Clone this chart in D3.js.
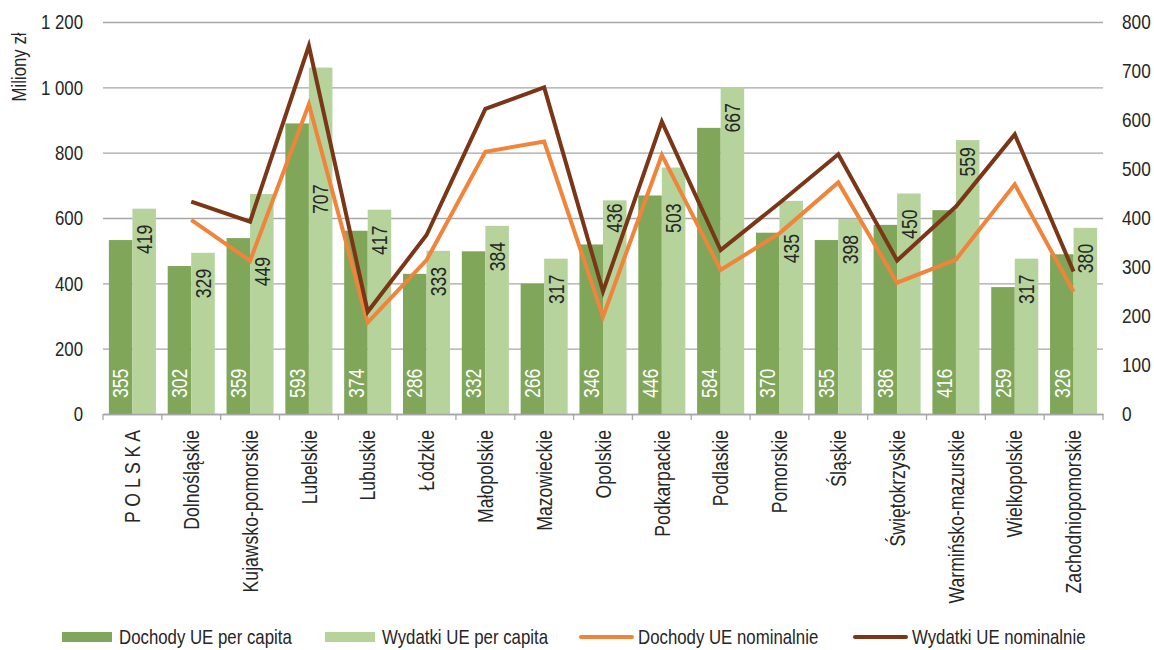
<!DOCTYPE html>
<html>
<head>
<meta charset="utf-8">
<script src="https://cdn.jsdelivr.net/npm/d3@7"></script>
<style>
  body { margin: 0; background: #fff; }
  svg text { font-family: "Liberation Sans", Arial, sans-serif; fill: #262626; font-size: 21px; }
</style>
</head>
<body>
<svg id="chart" width="1154" height="650"></svg>
<script>
// województwa
const categories = ["P O L S K A", "Dolnośląskie", "Kujawsko-pomorskie", "Lubelskie", "Lubuskie", "Łódzkie",
  "Małopolskie", "Mazowieckie", "Opolskie", "Podkarpackie", "Podlaskie", "Pomorskie", "Śląskie",
  "Świętokrzyskie", "Warmińsko-mazurskie", "Wielkopolskie", "Zachodniopomorskie"]

// zł per capita (right axis)
const dochodyPerCapita = [355, 302, 359, 593, 374, 286, 332, 266, 346, 446, 584, 370, 355, 386, 416, 259, 326]
const wydatkiPerCapita = [419, 329, 449, 707, 417, 333, 384, 317, 436, 503, 667, 435, 398, 450, 559, 317, 380]

// miliony zł (left axis), no value for the whole country
const dochodyNominalnie = [null, 594, 469, 948, 280, 471, 803, 834, 298, 793, 441, 553, 709, 402, 473, 703, 374]
const wydatkiNominalnie = [null, 650, 589, 1127, 313, 548, 934, 1000, 375, 895, 502, 646, 795, 470, 635, 856, 436]

const leftTicks = [0, 200, 400, 600, 800, 1000, 1200]
const rightTicks = [0, 100, 200, 300, 400, 500, 600, 700, 800]

const legendItems = ["Dochody UE per capita", "Wydatki UE per capita", "Dochody UE nominalnie", "Wydatki UE nominalnie"]

const colDark = "#80a65a", colLight = "#b5d39b", colOrange = "#f0843a", colBrown = "#7a3616"

const svg = d3.select("#chart")
const plotL = 103, plotR = 1103, plotT = 22, plotB = 414

const x = d3.scaleBand().domain(categories).range([plotL, plotR])
const inner = d3.scaleBand().domain(["d", "w"]).range([0, x.bandwidth()]).paddingOuter(0.25)
const yL = d3.scaleLinear().domain([0, 1200]).range([plotB, plotT])
const yR = d3.scaleLinear().domain([0, 800]).range([plotB, plotT])

// space format "1 200"
const fmt = v => d3.format(",")(v).replace(/,/g, " ")

// gridlines + left axis
const gL = svg.append("g").attr("transform", `translate(${plotL},0)`)
  .call(d3.axisLeft(yL).tickValues(leftTicks).tickFormat(fmt).tickSize(-(plotR - plotL)).tickPadding(20))
gL.select(".domain").remove()
gL.selectAll(".tick line").attr("stroke", "#a6a6a6").attr("stroke-width", 1.3)
gL.selectAll(".tick text").style("font-size", null)

// right axis labels squeezed by transform (keeps their box inside the page)
const gR = svg.append("g").attr("transform", `translate(${plotR},0)`)
  .call(d3.axisRight(yR).tickValues(rightTicks).tickSize(0))
gR.select(".domain").remove()
gR.selectAll(".tick text").style("font-size", null)
  .attr("x", 0).attr("transform", "translate(19,0) scale(0.82,1)")
  .classed("squeezed", true)

svg.append("text")
  .attr("transform", "translate(19,67) rotate(-90)")
  .attr("text-anchor", "middle").attr("dy", "0.35em")
  .text("Miliony zł")

// bars
const groups = svg.append("g").selectAll("g").data(categories).join("g")
  .attr("transform", d => `translate(${x(d)},0)`)

groups.append("rect")
  .attr("x", inner("d")).attr("width", inner.bandwidth())
  .attr("y", (d, i) => yR(dochodyPerCapita[i]))
  .attr("height", (d, i) => plotB - yR(dochodyPerCapita[i]))
  .attr("fill", colDark)
groups.append("rect")
  .attr("x", inner("w")).attr("width", inner.bandwidth())
  .attr("y", (d, i) => yR(wydatkiPerCapita[i]))
  .attr("height", (d, i) => plotB - yR(wydatkiPerCapita[i]))
  .attr("fill", colLight)

// x axis
const gX = svg.append("g").attr("transform", `translate(0,${plotB})`)
  .call(d3.axisBottom(x).tickSize(0).tickPadding(0))
gX.select(".domain").attr("stroke", "#a6a6a6").attr("stroke-width", 1.3)
gX.selectAll(".tick text")
  .style("font-size", "22px")
  .attr("text-anchor", "end")
  .attr("transform", "translate(0,16) rotate(-90)")
  .attr("x", 0).attr("y", 0).attr("dy", "0.35em")
gX.selectAll(".sep").data(d3.range(categories.length + 1)).join("line")
  .attr("x1", i => plotL + i * x.step()).attr("x2", i => plotL + i * x.step())
  .attr("y1", 0).attr("y2", 6).attr("stroke", "#a6a6a6").attr("stroke-width", 1.3)

// lines
const line = d3.line().defined(d => d != null)
  .x((d, i) => x(categories[i]) + x.bandwidth() / 2)
  .y(d => yL(d))
svg.append("path").datum(dochodyNominalnie).attr("d", line)
  .attr("fill", "none").attr("stroke", colOrange).attr("stroke-width", 4).attr("stroke-linejoin", "miter")
svg.append("path").datum(wydatkiNominalnie).attr("d", line)
  .attr("fill", "none").attr("stroke", colBrown).attr("stroke-width", 4).attr("stroke-linejoin", "miter")

// bar labels
groups.append("text")
  .attr("transform", (d, i) => `translate(${inner("d") + inner.bandwidth() / 2},${plotB - 16}) rotate(-90)`)
  .attr("dy", "0.35em")
  .style("fill", "#fff").style("font-size", "22px")
  .text((d, i) => dochodyPerCapita[i])

// a few labels sit lower in the original
const labelShift = { "Kujawsko-pomorskie": 47, "Lubelskie": 101, "Opolskie": -13, "Podkarpackie": 20, "Pomorskie": 17, "Warmińsko-mazurskie": -9 }
groups.append("text")
  .attr("transform", (d, i) => `translate(${inner("w") + inner.bandwidth() / 2},${yR(wydatkiPerCapita[i]) + 16 + (labelShift[d] || 0)}) rotate(-90)`)
  .attr("dy", "0.35em").attr("text-anchor", "end")
  .style("font-size", "22px")
  .text((d, i) => wydatkiPerCapita[i])

// legend
const legendX = [62, 325, 581, 855]
const lg = svg.append("g").selectAll("g").data(legendItems).join("g")
  .attr("transform", (d, i) => `translate(${legendX[i]},637)`)
lg.filter((d, i) => i < 2).append("rect")
  .attr("x", 0).attr("y", -5).attr("width", 50).attr("height", 10)
  .attr("fill", (d, i) => i === 0 ? colDark : colLight)
lg.filter((d, i) => i >= 2).append("line")
  .attr("x1", 0).attr("x2", 51).attr("y1", 0).attr("y2", 0)
  .attr("stroke-width", 4).attr("stroke-linecap", "round")
  .attr("stroke", (d, i) => i === 0 ? colOrange : colBrown)
lg.append("text").attr("x", 57).attr("dy", "0.35em")
  .text(d => d)

// the original uses a narrow face; squeeze Liberation Sans to match
svg.selectAll("text:not(.squeezed)").each(function() {
  const w = this.getComputedTextLength()
  d3.select(this).attr("textLength", w * 0.8).attr("lengthAdjust", "spacingAndGlyphs")
})
</script>
</body>
</html>
